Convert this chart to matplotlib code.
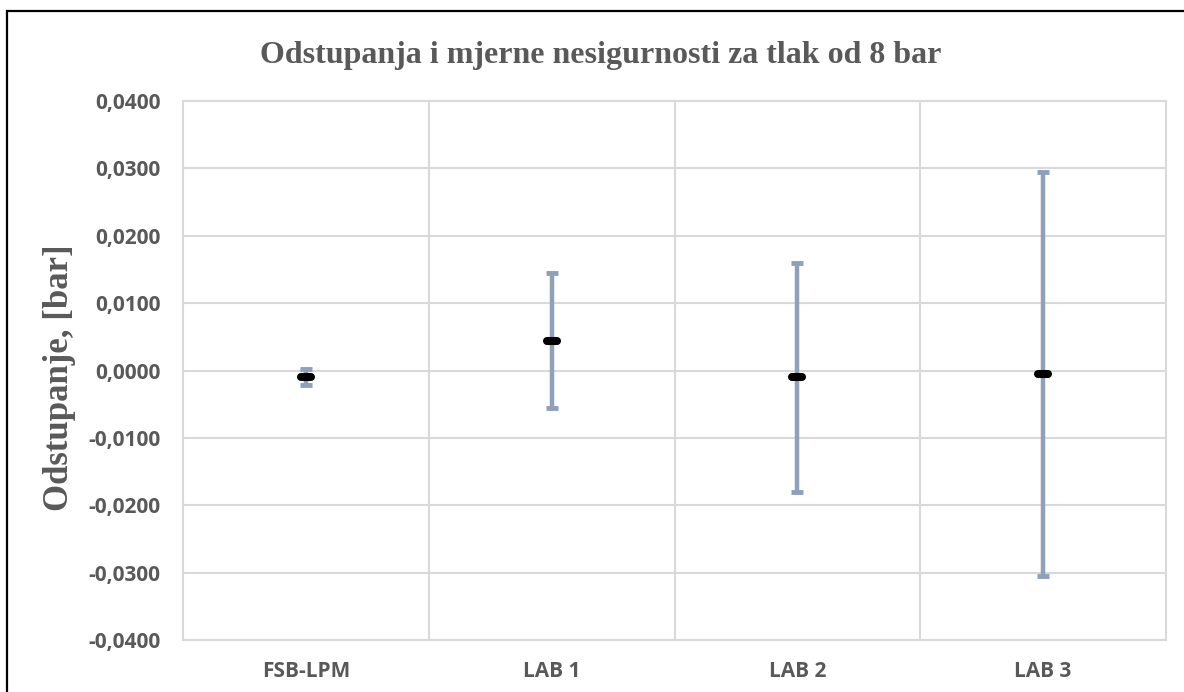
import matplotlib
matplotlib.use("Agg")
import matplotlib.pyplot as plt
from matplotlib.patches import Rectangle
from matplotlib.markers import MarkerStyle

categories = ["FSB-LPM", "LAB 1", "LAB 2", "LAB 3"]
deviation = [-0.0010, 0.0044, -0.0010, -0.0005]
uncertainty = [0.0012, 0.0100, 0.0170, 0.0300]
yticks = [-0.04, -0.03, -0.02, -0.01, 0.0, 0.01, 0.02, 0.03, 0.04]

TXT = "#595959"
GRID = "#D9D9D9"
ERR = "#8FA0B9"

fig = plt.figure(figsize=(11.84, 6.92), dpi=100)
ax = fig.add_axes([183/1184, 1-640/692, (1166-183)/1184, (640-101)/692])

x = list(range(len(categories)))
ax.errorbar(x, deviation, yerr=uncertainty, fmt="none", ecolor=ERR,
            elinewidth=3.2, capsize=4.5, capthick=3.5, zorder=3)
ax.plot(x, deviation, linestyle="none",
        marker=MarkerStyle("_", capstyle="round"), markersize=7.5,
        markeredgewidth=5.8, color="black", zorder=4)

ax.set_xlim(-0.5, len(categories)-0.5)
ax.set_ylim(-0.04, 0.04)
ax.set_yticks(yticks)
ax.set_yticklabels([("%.4f" % v).replace(".", ",").replace("-0,0000", "0,0000") for v in yticks])
ax.set_xticks(x)
ax.set_xticklabels(categories)
ax.set_xticks([i + 0.5 for i in x[:-1]], minor=True)

ax.grid(True, which="major", axis="y", color=GRID, linewidth=1.5, zorder=0)
ax.grid(True, which="minor", axis="x", color=GRID, linewidth=1.5, zorder=0)
ax.set_axisbelow(True)
for s in ax.spines.values():
    s.set_color(GRID)
    s.set_linewidth(1.5)
ax.tick_params(which="both", length=0)
ax.tick_params(axis="y", pad=16)
ax.tick_params(axis="x", pad=15)
for lab in ax.get_yticklabels() + ax.get_xticklabels():
    lab.set_fontfamily("Open Sans")
    lab.set_fontweight("bold")
    lab.set_fontsize(15)
    lab.set_color(TXT)

fig.text(601/1184, 1-56/692, "Odstupanja i mjerne nesigurnosti za tlak od 8 bar",
         ha="center", va="center", fontfamily="Liberation Serif",
         fontweight="bold", fontsize=23, color=TXT)
fig.text(60/1184, 1-378/692, "Odstupanje, [bar]", ha="center", va="center",
         rotation=90, fontfamily="Liberation Serif", fontweight="bold",
         fontsize=25, color=TXT)

fig.patches.append(Rectangle((7/1184, -0.1), 1.1, 1-10.5/692+0.1,
                             transform=fig.transFigure, fill=False,
                             edgecolor="black", linewidth=1.6))

fig.savefig("out.png", dpi=100)
